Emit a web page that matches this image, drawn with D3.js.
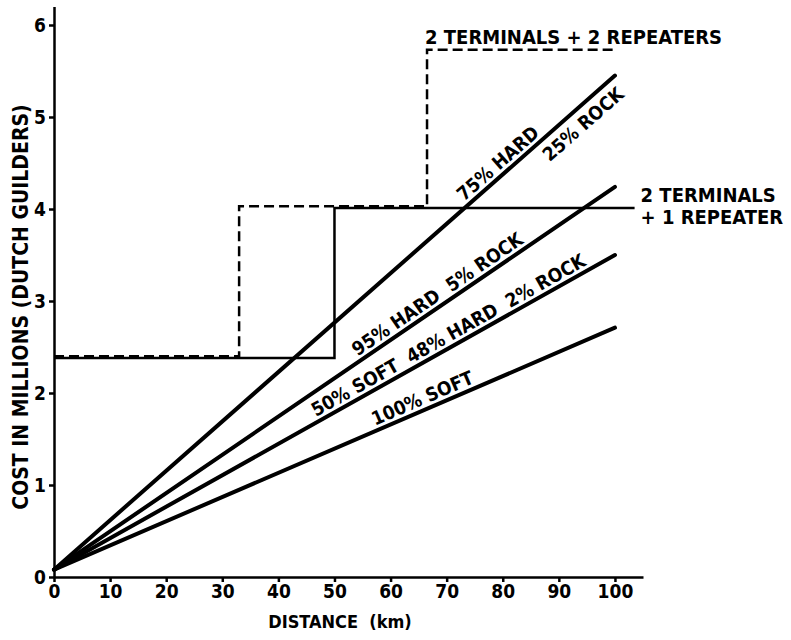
<!DOCTYPE html>
<html>
    <head>
        <meta charset="utf-8" />
        <script src="https://d3js.org/d3.v7.min.js"></script>
        <style>
            body {
                margin: 0;
                background-color: white;
            }
            svg text {
                font-family: 'DejaVu Sans Condensed', 'DejaVu Sans', sans-serif;
                font-weight: bold;
                fill: black;
                white-space: pre;
            }
        </style>
    </head>
    <body>
        <svg></svg>
        <script>
            // distance (km) and cost (millions of Dutch guilders)
            const xTicks = [0, 10, 20, 30, 40, 50, 60, 70, 80, 90, 100]
            const yTicks = [0, 1, 2, 3, 4, 5, 6]

            // straight cost lines, start and end of each
            const soilNames = ['75% HARD 25% ROCK', '95% HARD 5% ROCK', '50% SOFT 48% HARD 2% ROCK', '100% SOFT']
            const soilDistance = [0, 100]
            const soilCostStart = [0.08, 0.08, 0.08, 0.08]
            const soilCostEnd = [5.45, 4.24, 3.5, 2.71]

            // step lines for terminals + repeaters
            const oneRepeaterDist = [0, 50, 103.5]
            const oneRepeaterCost = [2.38, 4.01, 4.01]
            const twoRepeaterDist = [0, 33, 66.5, 100]
            const twoRepeaterCost = [2.4, 4.03, 5.73, 5.73]

            // text along the lines: line index, distance of the middle, above / below
            const labelText = ['75% HARD', '25% ROCK', '95% HARD  5% ROCK', '50% SOFT  48% HARD  2% ROCK', '100% SOFT']
            const labelLine = [0, 0, 1, 2, 3]
            const labelDist = [80.5, 92.5, 69.5, 71.3, 66.5]
            const labelSide = ['above', 'below', 'above', 'above', 'above']

            const width = 791
            const height = 640

            const svg = d3.select('svg')
                .attr('width', width)
                .attr('height', height)

            const x = d3.scaleLinear().domain([0, 105]).range([54, 643])
            const y = d3.scaleLinear().domain([0, 6.2]).range([577, 6.6])

            // axes
            const xAxis = svg.append('g')
                .attr('transform', `translate(0,${y(0)})`)
                .call(d3.axisBottom(x).tickValues(xTicks).tickSize(5).tickSizeOuter(0).tickPadding(3))
            const yAxis = svg.append('g')
                .attr('transform', `translate(${x(0)},0)`)
                .call(d3.axisLeft(y).tickValues(yTicks).tickFormat(d3.format('d')).tickSize(5).tickSizeOuter(0).tickPadding(3))

            ;[xAxis, yAxis].forEach((g) => {
                g.select('.domain').attr('stroke', 'black').attr('stroke-width', 2.5)
                g.selectAll('.tick line').attr('stroke', 'black').attr('stroke-width', 2.5)
                g.selectAll('.tick text')
                    .attr('font-family', null)
                    .style('font-size', '19px')
                    .attr('fill', 'black')
            })

            svg.append('text')
                .attr('x', 340)
                .attr('y', 628)
                .attr('text-anchor', 'middle')
                .style('font-size', '18px')
                .text('DISTANCE  (km)')

            svg.append('text')
                .attr('transform', 'translate(28,307) rotate(-90)')
                .attr('text-anchor', 'middle')
                .style('font-size', '21px')
                .text('COST IN MILLIONS (DUTCH GUILDERS)')

            // step lines
            const step = d3.line()
                .x((d) => x(d[0]))
                .y((d) => y(d[1]))
                .curve(d3.curveStepAfter)

            svg.append('path')
                .datum(oneRepeaterDist.map((d, i) => [d, oneRepeaterCost[i]]))
                .attr('d', step)
                .attr('fill', 'none')
                .attr('stroke', 'black')
                .attr('stroke-width', 2.5)

            svg.append('path')
                .datum(twoRepeaterDist.map((d, i) => [d, twoRepeaterCost[i]]))
                .attr('d', step)
                .attr('fill', 'none')
                .attr('stroke', 'black')
                .attr('stroke-width', 2.5)
                .attr('stroke-dasharray', '10,5')

            // soil cost lines
            const straight = d3.line()
                .x((d) => x(d[0]))
                .y((d) => y(d[1]))

            soilNames.forEach((name, i) => {
                svg.append('path')
                    .datum([[soilDistance[0], soilCostStart[i]], [soilDistance[1], soilCostEnd[i]]])
                    .attr('d', straight)
                    .attr('fill', 'none')
                    .attr('stroke', 'black')
                    .attr('stroke-width', 4)
                    .attr('stroke-linecap', 'round')
            })

            // labels along the lines
            labelText.forEach((t, j) => {
                const i = labelLine[j]
                const cost = (d) => soilCostStart[i] + (soilCostEnd[i] - soilCostStart[i]) * (d - soilDistance[0]) / (soilDistance[1] - soilDistance[0])
                const px = x(labelDist[j])
                const py = y(cost(labelDist[j]))
                const angle = Math.atan2(y(cost(100)) - y(cost(0)), x(100) - x(0)) * 180 / Math.PI
                svg.append('text')
                    .attr('transform', `translate(${px},${py}) rotate(${angle})`)
                    .attr('text-anchor', 'middle')
                    .attr('y', labelSide[j] === 'above' ? -5 : 22)
                    .style('font-size', '19px')
                    .text(t)
            })

            // step line labels
            svg.append('text')
                .attr('x', x(66.5) - 2)
                .attr('y', y(5.73) - 6)
                .style('font-size', '20px')
                .text('2 TERMINALS + 2 REPEATERS')

            svg.append('text')
                .attr('x', x(103.5) + 6)
                .attr('y', y(4.01) - 6)
                .style('font-size', '20px')
                .text('2 TERMINALS')

            svg.append('text')
                .attr('x', x(103.5) + 6)
                .attr('y', y(4.01) + 16)
                .style('font-size', '20px')
                .text('+ 1 REPEATER')
        </script>
    </body>
</html>
